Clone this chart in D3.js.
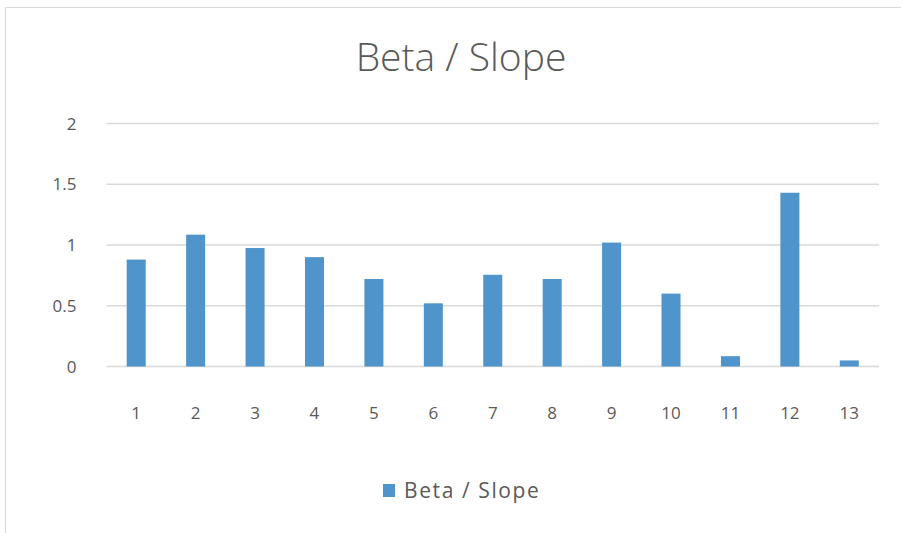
<!DOCTYPE html>
<html>
<head>
<meta charset="utf-8">
<script src="https://cdn.jsdelivr.net/npm/d3@7"></script>
<style>
  html, body { margin: 0; padding: 0; background: #fff; overflow: hidden; }
  svg { display: block; }
  text { font-family: "Open Sans", "Liberation Sans", sans-serif; fill: #595959; }
</style>
</head>
<body>
<svg id="chart" width="901" height="533"></svg>
<script>
const categories = ["1", "2", "3", "4", "5", "6", "7", "8", "9", "10", "11", "12", "13"];
const values = [0.88, 1.085, 0.975, 0.9, 0.72, 0.52, 0.755, 0.72, 1.02, 0.6, 0.085, 1.43, 0.05];
const yTicks = [0, 0.5, 1, 1.5, 2];
const seriesName = "Beta / Slope";

const svg = d3.select("#chart");
const width = +svg.attr("width");
const height = +svg.attr("height");

// chart frame: only top and left edges show in the picture
svg.append("path")
  .attr("d", `M5.5,${height} V7.5 H${width}`)
  .attr("fill", "none").attr("stroke", "#d9d9d9");

const margin = { top: 123.5, bottom: 166.5, left: 106.5, right: 22 };
const innerWidth = width - margin.left - margin.right;
const innerHeight = height - margin.top - margin.bottom;

const xScale = d3.scaleBand().domain(categories).range([0, innerWidth]).paddingInner(0.68).paddingOuter(0.34);
const yScale = d3.scaleLinear().domain([0, 2]).range([innerHeight, 0]);

const g = svg.append("g").attr("transform", `translate(${margin.left},${margin.top})`);

// gridlines
g.selectAll(".grid").data(yTicks).enter().append("line")
  .attr("x1", 0).attr("x2", innerWidth)
  .attr("y1", (d) => yScale(d)).attr("y2", (d) => yScale(d))
  .attr("stroke", "#d9d9d9").attr("stroke-width", 1.3);

// y labels
g.selectAll(".ylab").data(yTicks).enter().append("text")
  .attr("x", -30)
  .attr("y", (d) => yScale(d) + 6)
  .attr("text-anchor", "end")
  .attr("font-size", "17px")
  .text((d) => d3.format("")(d));

// x labels
g.selectAll(".xlab").data(categories).enter().append("text")
  .attr("x", (d) => xScale(d) + xScale.bandwidth() / 2)
  .attr("y", innerHeight + 52)
  .attr("text-anchor", "middle")
  .attr("font-size", "17px")
  .text((d) => d);

// bars
g.selectAll(".bar").data(values).enter().append("rect")
  .attr("x", (d, i) => xScale(categories[i]))
  .attr("y", (d) => yScale(d))
  .attr("width", xScale.bandwidth())
  .attr("height", (d) => innerHeight - yScale(d))
  .attr("fill", "#4f94cb");

// title
svg.append("text")
  .attr("x", 461).attr("y", 71)
  .attr("text-anchor", "middle")
  .attr("font-size", "39px")
  .attr("font-weight", 300)
  .text(seriesName);

// legend
const legend = svg.append("g").attr("transform", "translate(383,484)");
legend.append("rect").attr("width", 12).attr("height", 13).attr("fill", "#4f94cb");
legend.append("text").attr("x", 21).attr("y", 14).attr("font-size", "21px")
  .attr("letter-spacing", "1.6px").text(seriesName);
</script>
</body>
</html>
